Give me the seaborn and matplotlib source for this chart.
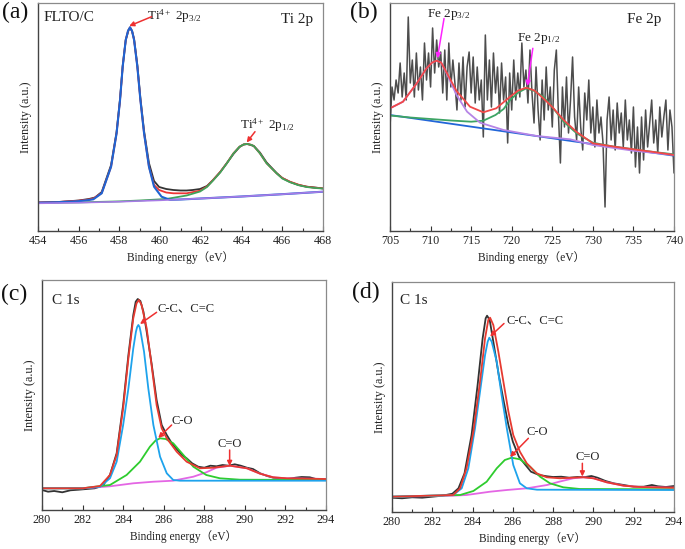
import numpy as np
import pandas as pd
import matplotlib
matplotlib.use("Agg")
import matplotlib.pyplot as plt
import seaborn as sns

# ---------------- data: panel (a) Ti 2p ----------------
A_BLACK_X = [454, 455, 456, 456.5, 456.8, 457.13, 457.59, 457.86, 458.03, 458.16, 458.31, 458.45, 458.52, 458.62,
             458.72, 458.88, 459.03, 459.21, 459.45, 459.7, 459.95, 460.3, 460.65, 461.0, 461.3, 461.6, 461.96,
             462.3, 462.6, 462.95, 463.27, 463.6, 463.9, 464.1, 464.3, 464.6, 464.9, 465.23, 465.72, 466.0, 466.38,
             466.8, 467.2, 467.6, 468]
A_BLACK_Y = [28.5, 29, 30.5, 32, 33.5, 39, 66, 99, 132, 165, 191, 201, 203, 200,
             192, 166, 133, 100, 68, 50, 44, 42, 41, 40.5, 40.5, 41, 42,
             45, 51, 59, 67.7, 77, 84, 86.5, 87, 85, 78.5, 68.5, 58, 53, 49,
             46, 44.3, 43.5, 42.5]
A_RED_X = [454, 455, 456, 456.5, 456.72, 457.13, 457.59, 457.86, 458.03, 458.16, 458.31, 458.42, 458.52, 458.62,
           458.72, 458.88, 459.03, 459.21, 459.45, 459.7, 459.95, 460.3, 460.65, 461.3, 461.96, 462.3, 462.6,
           462.95, 463.27, 463.6, 463.9, 464.1, 464.25, 464.45, 464.6, 464.9, 465.23, 465.72, 466.0, 466.38,
           466.8, 467.2, 467.6, 468]
A_RED_Y = [28.5, 29, 30.3, 31.5, 32.5, 38, 64.3, 97.7, 131, 164.3, 191, 200, 203.7, 200,
           191, 164.3, 131, 97.7, 64.3, 46, 41, 38.5, 37.7, 37.7, 40.3, 44.5, 51,
           59, 67.7, 77.7, 84.3, 86.5, 87, 86.3, 85, 77.7, 67.7, 57.7, 53, 49.3,
           46.3, 44.3, 43.3, 42.7]
A_BLUE_X = [454, 455, 456, 456.5, 456.72, 457.13, 457.59, 457.86, 458.03, 458.16, 458.31, 458.42, 458.52, 458.62,
            458.72, 458.88, 459.03, 459.21, 459.45, 459.7, 460.07, 460.48, 461, 462, 464, 466, 468]
A_BLUE_Y = [28.3, 28.8, 29.8, 31, 31.7, 37.7, 64.3, 97.7, 131, 164.3, 191, 200, 203.7, 200,
            191, 164.3, 131, 97.7, 64.3, 44.3, 34.3, 31.2, 31.5, 32.5, 34.5, 36.8, 39.3]
A_GREEN_X = [454, 456, 458, 459, 460.3, 461.3, 461.96, 462.3, 462.6, 462.95, 463.27, 463.6, 463.9, 464.1, 464.25,
             464.45, 464.6, 464.9, 465.23, 465.72, 466.0, 466.38, 466.8, 467.2, 467.6, 468]
A_GREEN_Y = [28, 28.6, 29.6, 30.5, 32, 35.5, 39.5, 44, 50.5, 58.5, 67.5, 77.5, 84.3, 86.5, 87,
             86.3, 85, 77.7, 67.7, 57.7, 52.5, 48.8, 45.8, 44, 43, 42.5]
A_BG_X = [454, 456, 458, 460, 462, 464, 466, 468]
A_BG_Y = [27.7, 28.3, 29.3, 30.7, 32.5, 34.5, 36.8, 39.3]

# ---------------- data: panel (b) Fe 2p ----------------
B_RAW_Y = [104, 144, 131, 151, 138, 168, 134, 158, 131, 214, 148, 171, 134, 178, 141, 164,
           131, 188, 151, 178, 144, 203, 158, 191, 164, 179, 138, 181, 131, 188, 144, 171,
           148, 121, 168, 131, 174, 124, 164, 179, 138, 174, 128, 164, 131, 151, 94, 196,
           131, 171, 124, 178, 138, 164, 118, 168, 131, 154, 88, 158, 121, 171, 131, 158,
           134, 188, 144, 161, 128, 181, 138, 108, 164, 121, 91, 151, 111, 164, 121, 144,
           104, 161, 181, 118, 68, 144, 104, 154, 98, 131, 174, 114, 91, 144, 104, 81,
           138, 111, 151, 98, 124, 84, 131, 98, 114, 88, 24, 111, 134, 91, 121, 81,
           128, 98, 118, 84, 131, 91, 111, 78, 124, 64, 104, 58, 114, 71, 121, 84,
           108, 131, 88, 111, 78, 124, 94, 114, 131, 81, 121, 104, 58]
B_RAW_X = list(np.linspace(705, 740, len(B_RAW_Y)))
B_BLUE_X = [705, 722.5, 740]
B_BLUE_Y = [116, 95.6, 75.3]
B_GREEN_X = [705, 707.5, 710, 712.5, 715, 716.5, 718, 719, 719.8, 720.8, 721.8, 722.8, 723.9, 725, 726.4, 728,
             730, 732.5, 735, 737.5, 740]
B_GREEN_Y = [115.5, 113.5, 112, 110.5, 109.3, 110.3, 116, 122, 131, 138.5, 142.7, 140, 134.3, 124, 109.3, 97.7,
             88.3, 84.5, 81.7, 79, 76.7]
B_PURPLE_X = [705, 706.6, 708.3, 709.5, 710.2, 710.75, 711.3, 711.98, 713.2, 714.5, 716.1, 719, 723.1, 727.2,
              730, 735, 740]
B_PURPLE_Y = [122.7, 129.3, 147.7, 162.7, 168.5, 170.3, 168.5, 157.7, 136, 119.3, 108.3, 101, 95, 91.7,
              86, 80.3, 76]
B_RED_X = [705, 706.6, 708.3, 709.5, 710.2, 710.75, 711.3, 711.98, 713.2, 714.86, 716.5, 718.1, 719.8, 720.8,
           721.8, 722.8, 723.9, 725, 726.4, 728, 730, 732.5, 735, 737.5, 740]
B_RED_Y = [122.7, 129.3, 147.7, 162.7, 168.5, 170.3, 168.5, 158.5, 140, 124.3, 118.7, 122.7, 134.3, 140.5,
           143.3, 140.5, 132.7, 124, 111, 99, 87.7, 84.5, 81.7, 79, 76]

# ---------------- data: panel (c) C 1s ----------------
C_BLACK_X = [280, 280.3, 280.6, 281.0, 281.4, 281.8, 282.2, 282.6, 283.0, 283.35, 283.68, 284.0, 284.26, 284.5,
             284.62, 284.72, 284.85, 285.0, 285.16, 285.4, 285.65, 285.9, 286.15, 286.4, 286.64, 286.9, 287.13,
             287.4, 287.7, 288.0, 288.3, 288.6, 288.9, 289.2, 289.5, 289.8, 290.1, 290.4, 290.75, 291.1, 291.4,
             291.8, 292.1, 292.5, 292.8, 293.2, 293.5, 294]
C_BLACK_Y = [20, 18.3, 19, 17.7, 19.7, 20.3, 21, 21.7, 24.3, 35, 56.7, 105, 155, 195,
             208.3, 211, 209, 198.3, 178.3, 146.7, 110, 85, 75, 66.7, 61, 55, 51.7,
             46.7, 43.3, 42.3, 44.3, 43.7, 45, 44.3, 45.7, 44.3, 42.3, 41, 36.7, 34, 32.3,
             31.7, 31, 32.3, 33, 32.7, 31, 31]
C_RED_X = [280, 282, 282.86, 283.35, 283.68, 284.0, 284.26, 284.5, 284.66, 284.78, 284.91, 285.16, 285.4, 285.65,
           285.9, 286.15, 286.64, 287.13, 287.79, 288.45, 289.27, 290.1, 290.75, 291.4, 292.06, 294]
C_RED_Y = [21.7, 21.7, 24, 35, 55, 101.7, 151.7, 191.7, 206.7, 210, 205, 181.7, 145, 105,
           81.7, 71.7, 58.3, 48.3, 41.7, 42.3, 44.3, 41.7, 36.3, 32.7, 31.7, 31]
C_BLUE_X = [280, 282, 282.86, 283.35, 283.68, 284.0, 284.26, 284.5, 284.63, 284.69, 284.75, 284.81, 284.86,
            285.03, 285.24, 285.49, 285.82, 286.15, 286.47, 286.8, 294]
C_BLUE_Y = [21.7, 21.7, 23.3, 31.7, 48.3, 85, 121.7, 161.7, 178.3, 183, 185, 183, 178.3,
            158.3, 121.7, 85, 53.3, 36.7, 30, 29.3, 29.3]
C_GREEN_X = [280, 282, 283.35, 284.17, 284.83, 285.32, 285.6, 285.82, 286.1, 286.47, 286.97, 287.46, 288.1,
             288.77, 289.76, 294]
C_GREEN_Y = [21.7, 21.7, 25, 35, 48.3, 63.3, 69.5, 71.7, 71, 66.7, 55, 43.3, 35, 31.7, 30.3, 30]
C_MAG_X = [280, 282.04, 283.35, 284.5, 285.5, 286.47, 287.46, 288.1, 288.6, 289.27, 290.1, 290.75, 291.4, 292.06, 294]
C_MAG_Y = [21.7, 21.7, 23.7, 26.7, 28.3, 29.3, 33.3, 37.7, 42.3, 44.3, 41.7, 36.3, 32.7, 31.7, 31]

# ---------------- data: panel (d) C 1s ----------------
D_BLACK_X = [280, 280.5, 281, 281.5, 282, 282.5, 283.0, 283.3, 283.6, 283.95, 284.25, 284.5, 284.65, 284.72,
             284.85, 285.03, 285.3, 285.55, 285.78, 286.0, 286.3, 286.6, 286.9, 287.3, 287.7, 288.0, 288.4,
             288.8, 289.2, 289.6, 289.9, 290.2, 290.6, 291.0, 291.5, 292.0, 292.5, 292.9, 293.2, 293.6, 294]
D_BLACK_Y = [14.3, 13.7, 14.7, 14.3, 15.3, 16.3, 18.3, 23.7, 38.7, 77, 127, 173.7, 193.7, 196.3,
             192, 170.3, 137, 110.3, 87, 70.3, 55.3, 47.7, 40.3, 37, 35.7, 35, 35.3,
             34.3, 35, 35, 36, 34.3, 31, 28.7, 27, 25.3, 25.3, 27, 25.7, 25, 26]
D_RED_X = [280, 283.04, 283.38, 283.7, 284.04, 284.37, 284.62, 284.78, 284.87, 285.03, 285.28, 285.53, 285.78,
           286.02, 286.35, 286.69, 287.18, 287.68, 288.34, 289.0, 289.5, 290.0, 290.66, 291.5, 292.3, 294]
D_RED_Y = [15.3, 17, 23.7, 43.7, 80.3, 130.3, 173.7, 192, 194.3, 187, 160.3, 130.3, 100.3,
           77, 60.3, 48.7, 38.7, 34.7, 33.7, 34.3, 34.7, 33.7, 29.7, 26.3, 25, 24.3]
D_BLUE_X = [280, 283.04, 283.46, 283.79, 284.12, 284.37, 284.62, 284.75, 284.83, 284.95, 285.2, 285.44, 285.7,
            286.02, 286.35, 286.69, 287.2, 294]
D_BLUE_Y = [15.3, 17, 23.7, 43.7, 83.7, 120.3, 157, 170.3, 174.3, 170.3, 150.3, 117, 83.7,
            47, 28.7, 23.7, 22.3, 22]
D_GREEN_X = [280, 283.38, 284.04, 284.7, 285.2, 285.6, 285.94, 286.35, 286.85, 287.35, 287.84, 288.5, 289.33, 294]
D_GREEN_Y = [15.3, 17, 21, 30.3, 43.7, 52, 54.3, 52.7, 45.3, 35.3, 28.7, 24.7, 23, 22.7]
D_MAG_X = [280, 283.0, 283.7, 284.87, 285.7, 286.7, 287.7, 288.3, 289.0, 289.5, 290.0, 290.66, 291.5, 292.3, 294]
D_MAG_Y = [15.3, 16.3, 17, 20.3, 22, 23.7, 27, 30.3, 33.7, 34.7, 33.7, 29.7, 26.3, 25, 24.3]

# tick settings
A_TICKS = [454, 456, 458, 460, 462, 464, 466, 468]
B_TICKS = [705, 710, 715, 720, 725, 730, 735, 740]
C_TICKS = [280, 282, 284, 286, 288, 290, 292, 294]

XLABEL = "Binding energy（eV）"
YLABEL = "Intensity (a.u.)"

# ---------------- style ----------------
sns.set_theme(style="ticks")
plt.rcParams["font.family"] = ["Liberation Serif", "Noto Sans CJK SC"]
plt.rcParams["mathtext.fontset"] = "custom"
plt.rcParams["mathtext.rm"] = "Liberation Serif"
plt.rcParams["mathtext.it"] = "Liberation Serif:italic"
plt.rcParams["axes.unicode_minus"] = False

fig = plt.figure(figsize=(6.85, 5.49), dpi=100)
W, H = 685.0, 549.0


def make_ax(l, r, t, b):
    return fig.add_axes([l / W, 1 - b / H, (r - l) / W, (b - t) / H])


axA = make_ax(38, 323, 3, 231)
axB = make_ax(390, 674, 3, 231)
axC = make_ax(42, 326, 280, 510)
axD = make_ax(392, 674, 282, 512)


def line(ax, x, y, color, lw=1.1):
    sns.lineplot(x=np.asarray(x, float), y=np.asarray(y, float), ax=ax, color=color, lw=lw,
                 estimator=None, sort=False, legend=False)


def style(ax, xlim, ylim, ticks, minor):
    ax.set_xlim(*xlim)
    ax.set_ylim(*ylim)
    ax.set_xticks(ticks)
    ax.set_xticks(minor, minor=True)
    ax.set_yticks([])
    ax.tick_params(axis="x", which="major", direction="in", length=3.6, width=0.8, colors="#333333",
                   labelsize=8.7, pad=3, top=False)
    ax.tick_params(axis="x", which="minor", direction="in", length=2.0, width=0.8, colors="#333333", top=False)
    ax.tick_params(axis="x", labelcolor="#222222")
    for s in ["left", "bottom"]:
        ax.spines[s].set_color("#444444")
        ax.spines[s].set_linewidth(1.0)
    for s in ["top", "right"]:
        ax.spines[s].set_visible(True)
        ax.spines[s].set_color("#8a8a8a")
        ax.spines[s].set_linewidth(0.9)
    ax.set_xlabel(XLABEL, fontsize=8.3, color="#222222", labelpad=2.5)
    ax.set_ylabel(YLABEL, fontsize=8.8, color="#222222", labelpad=4)
    ax.set_facecolor("white")


def arrow(ax, tail, head, color):
    ax.annotate("", xy=head, xytext=tail,
                arrowprops=dict(arrowstyle="-|>", color=color, lw=1.1, mutation_scale=7,
                                shrinkA=0, shrinkB=0))


RED = "#ee3030"
MAG = "#ff22ff"

# ---- panel (a)
line(axA, A_BLACK_X, A_BLACK_Y, "#333333", 1.3)
line(axA, A_RED_X, A_RED_Y, "#ee3535", 1.3)
line(axA, A_GREEN_X, A_GREEN_Y, "#3fa35a", 1.3)
line(axA, A_BLUE_X, A_BLUE_Y, "#1f64d2", 1.5)
line(axA, A_BG_X, A_BG_Y, "#a77be6", 1.2)
style(axA, (454, 468), (0, 228), A_TICKS, np.arange(455, 468, 2))
axA.text(454.25, 213.5, "FLTO/C", fontsize=11, va="center", ha="left", color="#222222")
axA.text(467.5, 212, "Ti 2p", fontsize=11, va="center", ha="right", color="#222222")
axA.text(459.35, 215, r"Ti$^{\mathrm{4+}}$ 2p$_{\mathrm{3/2}}$", fontsize=9.5, va="center", ha="left",
         color="#222222")
arrow(axA, (459.58, 214.3), (458.48, 205), RED)
axA.text(463.92, 106, r"Ti$^{\mathrm{4+}}$ 2p$_{\mathrm{1/2}}$", fontsize=9.5, va="center", ha="left",
         color="#222222")
arrow(axA, (464.66, 99.3), (464.25, 88.5), RED)

# ---- panel (b)
line(axB, B_RAW_X, B_RAW_Y, "#4d4d4d", 1.1)
line(axB, B_BLUE_X, B_BLUE_Y, "#2266d8", 1.3)
line(axB, B_GREEN_X, B_GREEN_Y, "#3da464", 1.3)
line(axB, B_PURPLE_X, B_PURPLE_Y, "#b684e6", 1.3)
line(axB, B_RED_X, B_RED_Y, "#f04848", 1.3)
style(axB, (705, 740), (0, 228), B_TICKS, np.arange(707.5, 740, 5))
axB.text(738.5, 212, "Fe 2p", fontsize=11, va="center", ha="right", color="#222222")
axB.text(709.5, 217, r"Fe 2p$_{\mathrm{3/2}}$", fontsize=9.5, va="center", ha="left", color="#222222")
arrow(axB, (711.66, 212.5), (710.84, 172.7), MAG)
axB.text(720.6, 193, r"Fe 2p$_{\mathrm{1/2}}$", fontsize=9.5, va="center", ha="left", color="#222222")
arrow(axB, (722.6, 182.7), (721.93, 145), MAG)

# ---- panel (c)
line(axC, C_BLACK_X, C_BLACK_Y, "#333333", 1.3)
line(axC, C_MAG_X, C_MAG_Y, "#e466e4", 1.3)
line(axC, C_GREEN_X, C_GREEN_Y, "#2ecc2e", 1.3)
line(axC, C_BLUE_X, C_BLUE_Y, "#1ea3ec", 1.3)
line(axC, C_RED_X, C_RED_Y, "#e63a30", 1.3)
style(axC, (280, 294), (0, 230), C_TICKS, np.arange(281, 294, 2))
axC.text(280.49, 210, "C 1s", fontsize=11, va="center", ha="left", color="#222222")
axC.text(285.67, 202, "C-C、C=C", fontsize=9, va="center", ha="left", color="#222222")
arrow(axC, (285.65, 197.7), (284.83, 186), RED)
axC.text(286.4, 89, "C-O", fontsize=9, va="center", ha="left", color="#222222")
arrow(axC, (286.39, 85), (285.73, 72), RED)
axC.text(289.27, 66, "C=O", fontsize=9, va="center", ha="center", color="#222222")
arrow(axC, (289.25, 60), (289.25, 44), RED)

# ---- panel (d)
line(axD, D_BLACK_X, D_BLACK_Y, "#333333", 1.3)
line(axD, D_MAG_X, D_MAG_Y, "#e466e4", 1.3)
line(axD, D_GREEN_X, D_GREEN_Y, "#2ecc2e", 1.3)
line(axD, D_BLUE_X, D_BLUE_Y, "#1ea3ec", 1.3)
line(axD, D_RED_X, D_RED_Y, "#e63a30", 1.3)
style(axD, (280, 294), (0, 230), C_TICKS, np.arange(281, 294, 2))
axD.text(280.4, 211, "C 1s", fontsize=11, va="center", ha="left", color="#222222")
axD.text(285.69, 192, "C-C、C=C", fontsize=9, va="center", ha="left", color="#222222")
arrow(axD, (285.56, 188.5), (284.87, 175.5), RED)
axD.text(286.69, 80.3, "C-O", fontsize=9, va="center", ha="left", color="#222222")
arrow(axD, (286.77, 73.7), (285.86, 55), RED)
axD.text(289.73, 54.5, "C=O", fontsize=9, va="center", ha="center", color="#222222")
arrow(axD, (289.45, 48.7), (289.45, 35.5), RED)

# panel letters
fig.text(2 / W, 1 - 12.5 / H, "(a)", fontsize=17, va="center", ha="left", color="#111111")
fig.text(350 / W, 1 - 12 / H, "(b)", fontsize=17, va="center", ha="left", color="#111111")
fig.text(1 / W, 1 - 294.5 / H, "(c)", fontsize=17, va="center", ha="left", color="#111111")
fig.text(352 / W, 1 - 292.5 / H, "(d)", fontsize=17, va="center", ha="left", color="#111111")

fig.savefig("out.png", dpi=100, facecolor="white")
